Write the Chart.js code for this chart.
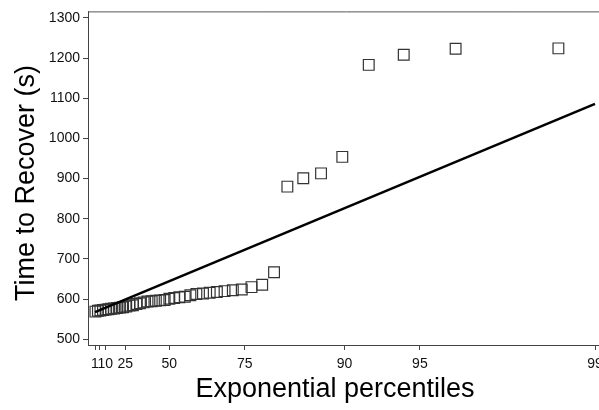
<!DOCTYPE html>
<html>
<head>
<meta charset="utf-8">
<script src="https://cdn.jsdelivr.net/npm/chart.js@4"></script>
<style>
  html, body { margin: 0; padding: 0; background: #fff; overflow: hidden; }
  #wrap { width: 620px; height: 410px; }
</style>
</head>
<body>
<div id="wrap"><canvas id="qqChart" width="620" height="410"></canvas></div>
<script>
const percentiles = [1.4, 3.6, 5.8, 8.0, 10.2, 12.4, 14.6, 16.9, 19.1, 21.3,
    23.5, 25.7, 27.9, 30.1, 32.3, 34.5, 36.7, 38.9, 41.2, 43.4,
    45.6, 47.8, 50.0, 52.2, 54.4, 56.6, 58.8, 61.0, 63.3, 65.5,
    67.7, 69.9, 72.1, 74.3, 76.5, 78.7, 80.9, 83.1, 85.4, 87.6,
    89.8, 92.0, 94.2, 96.4, 98.6];
// time to recover (s)
const recoverTimes = [569, 571, 572, 573, 574, 575, 576, 577, 578, 579,
    580, 582, 584, 585, 588, 590, 592, 594, 595, 596,
    597, 598, 601, 603, 605, 606, 610, 613, 614, 616,
    618, 620, 622, 624, 630, 636, 667, 880, 901, 913,
    954, 1183, 1208, 1223, 1224];
// reference line
const linePercents = [1, 99];
const lineTimes = [568, 1086];

const xTickPercents = [1, 5, 10, 25, 50, 75, 90, 95, 99];
const xTickLabels = ["1", "", "10", "25", "50", "75", "90", "95", "99"];
const yTicks = [500, 600, 700, 800, 900, 1000, 1100, 1200, 1300];

// exponential probability scale: percentile -> exponential quantile
function expQ(p) {
    return -Math.log(1 - p / 100);
}

let pts = percentiles.map((p, i) => ({ x: expQ(p), y: recoverTimes[i] }));
let linePts = linePercents.map((p, i) => ({ x: expQ(p), y: lineTimes[i] }));

const FONT = "'Liberation Sans', Arial, Helvetica, sans-serif";

const decor = {
    id: "decor",
    beforeDatasetsDraw(chart) {
        let a = chart.chartArea, ctx = chart.ctx;
        ctx.save();
        ctx.strokeStyle = "#555";
        ctx.lineWidth = 1;
        ctx.beginPath();
        ctx.moveTo(a.left, a.top + 0.5);
        ctx.lineTo(a.right, a.top + 0.5);
        ctx.stroke();
        ctx.restore();
    },
    afterDraw(chart) {
        let ctx = chart.ctx;
        ctx.save();
        ctx.fillStyle = "#000";
        ctx.font = "27px " + FONT;
        ctx.textAlign = "center";
        ctx.textBaseline = "alphabetic";
        ctx.fillText("Exponential percentiles", 335, 397);
        ctx.translate(34, 183);
        ctx.rotate(-Math.PI / 2);
        ctx.fillText("Time to Recover (s)", 0, 0);
        ctx.restore();
    }
};

new Chart(document.getElementById("qqChart"), {
    type: "scatter",
    data: {
        datasets: [{
            data: linePts,
            showLine: true,
            borderColor: "#000",
            borderWidth: 2.5,
            pointRadius: 0,
        }, {
            data: pts,
            pointStyle: "rect",
            pointRadius: 7.6,
            backgroundColor: "rgba(0,0,0,0)",
            borderColor: "#333",
            borderWidth: 1.2,
        }],
    },
    options: {
        responsive: false,
        animation: false,
        layout: { padding: { left: 0, top: 10, right: 15, bottom: 0 } },
        plugins: { legend: { display: false }, tooltip: { enabled: false } },
        scales: {
            x: {
                type: "linear",
                min: -0.0543,
                max: 4.697,
                afterFit: s => { s.height = 65; },
                afterBuildTicks: s => { s.ticks = xTickPercents.map(p => ({ value: expQ(p) })); },
                grid: { drawOnChartArea: false, tickLength: 5, color: "#444" },
                border: { color: "#444" },
                ticks: {
                    autoSkip: false,
                    maxRotation: 0,
                    padding: 6,
                    color: "#111",
                    font: { family: FONT, size: 14 },
                    callback: function (v, i) { return xTickLabels[i]; },
                },
            },
            y: {
                min: 486,
                max: 1316,
                afterFit: s => { s.width = 88; },
                afterBuildTicks: s => { s.ticks = yTicks.map(v => ({ value: v })); },
                grid: { drawOnChartArea: false, tickLength: 5, color: "#444" },
                border: { color: "#444" },
                ticks: {
                    padding: 3,
                    color: "#111",
                    font: { family: FONT, size: 14 },
                    callback: v => String(v),
                },
            },
        },
    },
    plugins: [decor],
});
</script>
</body>
</html>
